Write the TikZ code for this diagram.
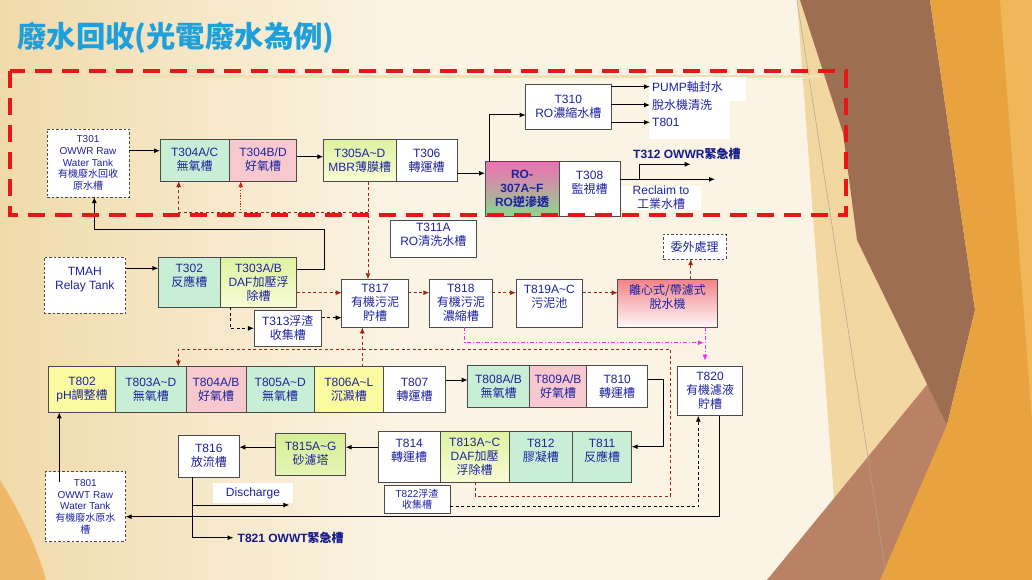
\documentclass[tikz,border=0pt]{standalone}
\usepackage{fontspec}
\setmainfont{Liberation Sans}
\newfontfamily\cjk{Noto Sans CJK TC}
\usetikzlibrary{arrows.meta}
\definecolor{navy}{RGB}{30,35,160}
\definecolor{navyb}{RGB}{20,25,140}
\definecolor{titleblue}{RGB}{30,160,220}
\definecolor{boxline}{RGB}{75,75,75}
\definecolor{boxgreen}{RGB}{200,238,213}
\definecolor{boxpink}{RGB}{247,200,205}
\definecolor{boxyellow}{RGB}{250,250,160}
\definecolor{ygtop}{RGB}{222,243,160}
\definecolor{ygbot}{RGB}{248,252,214}
\definecolor{sandtop}{RGB}{214,238,150}
\definecolor{sandbot}{RGB}{228,245,180}
\definecolor{rotop}{RGB}{240,110,180}
\definecolor{robot}{RGB}{140,215,140}
\definecolor{dwtop}{RGB}{242,130,135}
\definecolor{dwbot}{RGB}{255,248,248}
\definecolor{brownline}{RGB}{150,40,20}
\definecolor{redline}{RGB}{230,30,30}
\definecolor{magline}{RGB}{230,50,230}
\definecolor{bigred}{RGB}{232,22,22}
\definecolor{bgcream}{RGB}{251,244,228}
\definecolor{bgtan}{RGB}{240,218,170}
\definecolor{decotan}{RGB}{243,215,160}
\definecolor{decobrown}{RGB}{158,110,82}
\definecolor{decoorange}{RGB}{233,163,62}
\definecolor{decolight}{RGB}{240,182,90}
\definecolor{decopink}{RGB}{186,130,100}
\definecolor{glow}{RGB}{240,185,105}
\definecolor{topline}{RGB}{242,222,178}
\begin{document}
\begin{tikzpicture}[x=1pt,y=-1pt,
  box/.style={draw=boxline, line width=0.9pt, inner sep=0pt, outer sep=0pt, align=center, text=navy, font=\fontsize{12}{14}\selectfont},
  wh/.style 2 args={minimum width=#1pt, minimum height=#2pt},
  smallfont/.style={font=\fontsize{10}{11.7}\selectfont},
  dbox/.style={box, fill=white, dash pattern=on 2.5pt off 2pt},
  gbox/.style={box, fill=boxgreen},
  pbox/.style={box, fill=boxpink},
  ybox/.style={box, fill=boxyellow},
  wbox/.style={box, fill=white},
  ygbox/.style={box, top color=ygtop, bottom color=ygbot},
  lbl/.style={text=navy, font=\fontsize{12}{14}\selectfont, inner sep=2pt, align=center},
  blbl/.style={text=navyb, font=\bfseries\fontsize{12}{14}\selectfont, inner sep=2pt},
  arr/.style={-{Latex[length=6pt,width=5pt]}, line width=1pt, draw=black},
  brn/.style={arr, draw=brownline, dash pattern=on 3pt off 2.5pt, line width=0.9pt},
  reddot/.style={arr, draw=redline, dash pattern=on 1.2pt off 1.5pt, line width=0.9pt},
  kdash/.style={arr, dash pattern=on 3pt off 2.5pt, line width=0.9pt},
  mag/.style={arr, draw=magline, dash pattern=on 4pt off 2pt on 1pt off 2pt, line width=0.9pt},
  reddash/.style={draw=bigred, line width=4pt, dash pattern=on 17pt off 10pt}
]
\useasboundingbox (0,0) rectangle (1032,580);
% background
\fill[bgcream] (0,0) rectangle (1032,580);
\shade[left color=bgtan, right color=bgcream] (0,0) rectangle (400,580);
\fill[glow] (0,480) .. controls (22,515) and (38,550) .. (46,580) -- (0,580) -- cycle;
\fill[decotan] (797,0) -- (830,0) -- (947,425) -- (887,580) -- (840,580) -- cycle;
\fill[decopink] (767,580) -- (930,381) -- (947,425) -- (887,580) -- cycle;
\fill[decobrown] (800,0) -- (930,0) -- (975,310) -- (947,425) -- (857,240) -- (843,133) -- cycle;
\fill[decoorange] (930,0) -- (1032,0) -- (1032,580) -- (880,580) -- (947,425) -- (975,310) -- cycle;
\fill[decolight] (1000,0) -- (1032,0) -- (1032,420) -- cycle;
\draw[line width=0.5pt, color={rgb,255:red,175;green,165;blue,150}] (797,0) -- (887,580);
\draw[line width=3pt, topline] (0,77) -- (820,77);
% title
\node[anchor=west, text=titleblue, font=\cjk\bfseries\fontsize{29.4}{34}\selectfont, inner sep=0pt] (title) at (17,38) {廢水回收(光電廢水為例)};
% white label backgrounds
\fill[white] (649.3,77.3) rectangle (746,100.7);
\fill[white] (649.3,100.7) rectangle (730,139.3);
% top section
\node[dbox, smallfont, wh={82}{68}] (t301) at (88,163) {T301\\OWWR Raw\\Water Tank\\{\cjk 有機廢水回收}\\{\cjk 原水槽}};
\node[gbox, wh={69.3}{42}] (t304ac) at (194.7,160) {T304A/C\\{\cjk 無氧槽}};
\node[pbox, wh={67.4}{42}] (t304bd) at (263,160) {T304B/D\\{\cjk 好氧槽}};
\node[ygbox, wh={72.7}{42.4}] (t305) at (359.7,160.5) {T305A\textasciitilde D\\MBR{\cjk 薄膜槽}};
\node[wbox, wh={61.3}{42.4}] (t306) at (426.7,160.5) {T306\\{\cjk 轉運槽}};
\node[box, top color=rotop, bottom color=robot, font=\bfseries\fontsize{12}{14}\selectfont, wh={74}{55}] (ro) at (522,189.2) {RO-\\307A\textasciitilde F\\RO{\cjk\bfseries 逆滲透}};
\node[wbox, wh={61}{55}] (t308) at (589.5,189.2) {T308\\{\cjk 監視槽}\\~};
\node[wbox, wh={85.3}{44.7}] (t310) at (568.3,106.7) {T310\\RO{\cjk 濃縮水槽}};
\node[wbox, wh={85.3}{37.7}] (t311) at (433.3,238.8) {T311A\\RO{\cjk 清洗水槽}\\[-5pt]~};
\node[lbl, anchor=west] (pump) at (650,86.7) {PUMP{\cjk 軸封水}};
\node[lbl, anchor=west] (wash) at (650,105) {{\cjk 脫水機清洗}};
\node[lbl, anchor=west] (t801r) at (650,122.3) {T801};
\node[blbl, anchor=west] (t312) at (631,153.5) {T312 OWWR{\cjk\bfseries 緊急槽}};
\node[lbl, fill=white, inner sep=0pt, minimum width=80pt] (reclaim) at (661,198) {Reclaim to\\{\cjk 工業水槽}};
% middle section
\node[dbox, wh={81.7}{56}] (tmah) at (84.8,285.3) {TMAH\\Relay Tank\\~};
\node[gbox, wh={62}{50}] (t302) at (189.3,282.3) {T302\\{\cjk 反應槽}\\~};
\node[ygbox, wh={76.4}{50}] (t303) at (258.5,282.3) {T303A/B\\DAF{\cjk 加壓浮}\\{\cjk 除槽}};
\node[wbox, wh={67.7}{35.3}] (t313) at (287.8,328.3) {T313{\cjk 浮渣}\\{\cjk 收集槽}};
\node[wbox, wh={66.6}{48}] (t817) at (375,303.3) {T817\\{\cjk 有機污泥}\\{\cjk 貯槽}};
\node[wbox, wh={63}{48}] (t818) at (460.8,303.3) {T818\\{\cjk 有機污泥}\\{\cjk 濃縮槽}};
\node[wbox, wh={66.7}{48}] (t819) at (549.3,303.3) {T819A\textasciitilde C\\{\cjk 污泥池}\\~};
\node[box, top color=dwtop, bottom color=dwbot, wh={99.6}{48}] (dw) at (667.5,303.3) {{\cjk 離心式/帶濾式}\\{\cjk 脫水機}\\~};
\node[dbox, wh={62.7}{24.7}] (outs) at (694.7,246.7) {{\cjk 委外處理}};
% T802 row
\node[ybox, wh={67.4}{45.6}] (t802) at (82,389.5) {T802\\pH{\cjk 調整槽}};
\node[gbox, wh={70.3}{45.6}] (t803) at (150.8,389.5) {T803A\textasciitilde D\\{\cjk 無氧槽}};
\node[pbox, wh={60}{45.6}] (t804) at (216,389.5) {T804A/B\\{\cjk 好氧槽}};
\node[gbox, wh={68.3}{45.6}] (t805) at (280.2,389.5) {T805A\textasciitilde D\\{\cjk 無氧槽}};
\node[ybox, wh={69}{45.6}] (t806) at (348.8,389.5) {T806A\textasciitilde L\\{\cjk 沉澱槽}};
\node[wbox, wh={62.4}{45.6}] (t807) at (414.5,389.5) {T807\\{\cjk 轉運槽}};
\node[gbox, wh={61.6}{42}] (t808) at (498.5,386.7) {T808A/B\\{\cjk 無氧槽}};
\node[pbox, wh={57.4}{42}] (t809) at (558,386.7) {T809A/B\\{\cjk 好氧槽}};
\node[wbox, wh={61}{42}] (t810) at (617.2,386.7) {T810\\{\cjk 轉運槽}};
\node[wbox, wh={64.6}{49}] (t820) at (710,391.2) {T820\\{\cjk 有機濾液}\\{\cjk 貯槽}};
% T811 row
\node[wbox, wh={61.7}{50.6}] (t814) at (409.2,457) {T814\\{\cjk 轉運槽}\\~};
\node[ygbox, wh={69.3}{50.6}] (t813) at (474.7,457) {T813A\textasciitilde C\\DAF{\cjk 加壓}\\{\cjk 浮除槽}};
\node[gbox, wh={63}{50.6}] (t812) at (540.8,457) {T812\\{\cjk 膠凝槽}\\~};
\node[gbox, wh={59.4}{50.6}] (t811) at (602,457) {T811\\{\cjk 反應槽}\\~};
\node[wbox, smallfont, wh={66}{28.3}] (t822) at (417,499.2) {T822{\cjk 浮渣}\\{\cjk 收集槽}};
\node[box, top color=sandtop, bottom color=sandbot, wh={70}{41.7}] (t815) at (310.7,454.2) {T815A\textasciitilde G\\{\cjk 砂濾塔}};
\node[wbox, wh={61}{42.3}] (t816) at (208.8,456.2) {T816\\{\cjk 放流槽}};
\node[dbox, smallfont, wh={80.7}{70}] (t801) at (85.3,506.7) {T801\\OWWT Raw\\Water Tank\\{\cjk 有機廢水原水}\\{\cjk 槽}};
\node[lbl, fill=white, inner sep=0pt, minimum width=80.6pt, minimum height=20.6pt] (disc) at (253,493) {Discharge};
\node[blbl, anchor=west, inner sep=4pt] (t821) at (233.5,537.7) {T821 OWWT{\cjk\bfseries 緊急槽}};
% connectors: top
\coordinate (a1) at (0,150.7);
\draw[arr] (t301.east |- a1) -- (t304ac.west |- a1);
\coordinate (a2) at (0,156.7);
\draw[arr] (t304bd.east |- a2) -- (t305.west |- a2);
\coordinate (a3) at (0,173.3);
\draw[arr] (t306.east |- a3) -- (ro.west |- a3);
\coordinate (a4) at (489,115);
\draw[arr] (ro.north -| a4) |- (t310.west |- a4);
\draw[arr] (t310.east |- pump) -- (pump.west);
\draw[arr] (t310.east |- wash) -- (wash.west);
\draw[arr] (t310.east |- t801r) -- (t801r.west);
\coordinate (e6) at (715,179.3);
\draw[arr] (t308.east |- e6) -- (e6);
\coordinate (b7) at (639,179.3);
\coordinate (e7) at (690.7,164.3);
\draw[arr] (b7) |- (e7);
\coordinate (j9) at (368,212.7);
\draw[brn] (t305.south -| j9) -- (t817.north -| j9);
\coordinate (k9) at (178.7,212.7);
\draw[brn] (j9) -- (k9) -- (t304ac.south -| k9);
\coordinate (k10) at (240.7,212.7);
\draw[reddot] (k10) -- (t304bd.south -| k10);
% middle
\coordinate (p11a) at (324,229.3);
\coordinate (p11b) at (94.3,229.3);
\coordinate (p11c) at (0,269.3);
\draw[arr] (t303.east |- p11c) -| (p11a) -- (p11b) -- (t301.south -| p11b);
\coordinate (c12) at (0,268.3);
\draw[arr] (tmah.east |- c12) -- (t302.west |- c12);
\coordinate (s1) at (0,292.7);
\draw[brn] (t303.east |- s1) -- (t817.west |- s1);
\coordinate (p14) at (230,328.3);
\draw[kdash] (t303.south -| p14) |- (t313.west);
\coordinate (c15) at (0,317.7);
\draw[kdash] (t313.east |- c15) -- (t817.west |- c15);
\draw[brn] (t817.east |- s1) -- (t818.west |- s1);
\draw[brn] (t818.east |- s1) -- (t819.west |- s1);
\draw[brn] (t819.east |- s1) -- (dw.west |- s1);
\coordinate (c17) at (690.7,0);
\draw[brn] (dw.north -| c17) -- (outs.south -| c17);
\coordinate (p18) at (464.6,342.7);
\coordinate (e18) at (703.8,342.7);
\draw[mag] (t818.south -| p18) |- (e18);
\coordinate (p19) at (705,0);
\draw[mag, shorten >=6pt] (dw.south -| p19) -- (t820.north -| p19);
\coordinate (p20) at (362.3,0);
\draw[brn] (t806.north -| p20) -- (t817.south -| p20);
\coordinate (q1) at (475,496);
\coordinate (q2) at (670.5,496);
\coordinate (q3) at (670.5,349.3);
\coordinate (q4) at (178.3,349.3);
\draw[brn] (t813.south -| q1) -- (q1) -- (q2) -- (q3) -- (q4) -- (t803.north -| q4);
% lower
\coordinate (c22) at (0,380);
\draw[arr] (t807.east |- c22) -- (t808.west |- c22);
\coordinate (p23) at (663.3,379.3);
\coordinate (c23) at (0,446.7);
\draw[arr] (t810.east |- p23) -| (p23 |- c23) -- (t811.east |- c23);
\coordinate (c24) at (0,447.2);
\draw[arr] (t814.west |- c24) -- (t815.east |- c24);
\draw[arr] (t815.west |- c24) -- (t816.east |- c24);
\coordinate (p26) at (192.3,537.7);
\coordinate (p26b) at (192.3,505);
\coordinate (e26b) at (289.3,505);
\draw[arr] (t816.south -| p26) |- (t821.west);
\draw[arr] (p26b) -- (e26b);
\coordinate (p27) at (719.3,516.7);
\draw[arr] (t820.south -| p27) |- (t801.east |- p27);
\coordinate (p28) at (698.3,506.7);
\draw[kdash] (t822.east |- p28) -| (t820.south -| p28);
\coordinate (p29) at (59.3,482.3);
\draw[arr] (p29) -- (t802.south -| p29);
% red dashed frame
\draw[reddash] (10,71) rectangle (845.7,215);
\end{tikzpicture}
\end{document}
